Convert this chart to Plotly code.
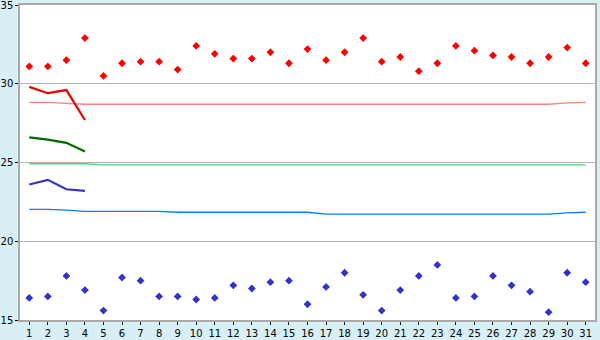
import plotly.graph_objects as go

days = list(range(1, 32))

upper_points = [31.1, 31.1, 31.5, 32.9, 30.5, 31.3, 31.4, 31.4, 30.9, 32.4,
                31.9, 31.6, 31.6, 32.0, 31.3, 32.2, 31.5, 32.0, 32.9, 31.4,
                31.7, 30.8, 31.3, 32.4, 32.1, 31.8, 31.7, 31.3, 31.7, 32.3, 31.3]
lower_points = [16.4, 16.5, 17.8, 16.9, 15.6, 17.7, 17.5, 16.5, 16.5, 16.3,
                16.4, 17.2, 17.0, 17.4, 17.5, 16.0, 17.1, 18.0, 16.6, 15.6,
                16.9, 17.8, 18.5, 16.4, 16.5, 17.8, 17.2, 16.8, 15.5, 18.0, 17.4]

line_days = [1, 2, 3, 4]
red_line = [29.8, 29.4, 29.6, 27.7]
green_line = [26.6, 26.45, 26.25, 25.7]
blue_line = [23.6, 23.9, 23.3, 23.2]

pink_ref = [28.82, 28.82, 28.75] + [28.7] * 26 + [28.78, 28.82]
green_ref = [24.92] * 4 + [24.85] * 27
blue_ref = [22.03, 22.03, 21.98] + [21.9] * 5 + [21.84] * 8 + [21.72] * 13 + [21.8, 21.84]

fig = go.Figure()
fig.add_trace(go.Scatter(x=days, y=pink_ref, mode="lines",
                         line=dict(color="#ff8080", width=1.3)))
fig.add_trace(go.Scatter(x=days, y=green_ref, mode="lines",
                         line=dict(color="#33e080", width=1.3)))
fig.add_trace(go.Scatter(x=days, y=blue_ref, mode="lines",
                         line=dict(color="#0080ff", width=1.3)))
fig.add_trace(go.Scatter(x=line_days, y=red_line, mode="lines",
                         line=dict(color="#ee0000", width=2.2)))
fig.add_trace(go.Scatter(x=line_days, y=green_line, mode="lines",
                         line=dict(color="#006a00", width=2.2)))
fig.add_trace(go.Scatter(x=line_days, y=blue_line, mode="lines",
                         line=dict(color="#3333cc", width=2.2)))
fig.add_trace(go.Scatter(x=days, y=upper_points, mode="markers",
                         marker=dict(symbol="diamond", size=6, color="#ff0000")))
fig.add_trace(go.Scatter(x=days, y=lower_points, mode="markers",
                         marker=dict(symbol="diamond", size=6, color="#3333cc")))

fig.update_layout(
    width=600, height=340,
    margin=dict(l=20, r=5, t=5, b=20),
    paper_bgcolor="#d9eff6",
    plot_bgcolor="#ffffff",
    showlegend=False,
    font=dict(family="DejaVu Sans", size=10, color="#000000"),
)
fig.update_xaxes(
    range=[0.5, 31.5], tickmode="array", tickvals=days,
    ticktext=[str(d) for d in days],
    showgrid=False, zeroline=False, automargin=False,
    showline=True, linecolor="#aaaaaa", linewidth=1.5, mirror=True,
    ticks="outside", ticklen=3, tickcolor="#000000", tickwidth=1,
    tickfont=dict(family="DejaVu Sans", size=10),
    ticklabeloverflow="allow",
)
fig.update_yaxes(
    range=[15, 35], tickvals=[15, 20, 25, 30, 35],
    showgrid=True, gridcolor="#b4b4b4", gridwidth=1, zeroline=False,
    automargin=False,
    showline=True, linecolor="#aaaaaa", linewidth=1.5, mirror=True,
    ticks="outside", ticklen=3, tickcolor="#000000", tickwidth=1,
    tickfont=dict(family="DejaVu Sans", size=10),
    ticklabeloverflow="allow",
)

fig.write_html("out.html")
